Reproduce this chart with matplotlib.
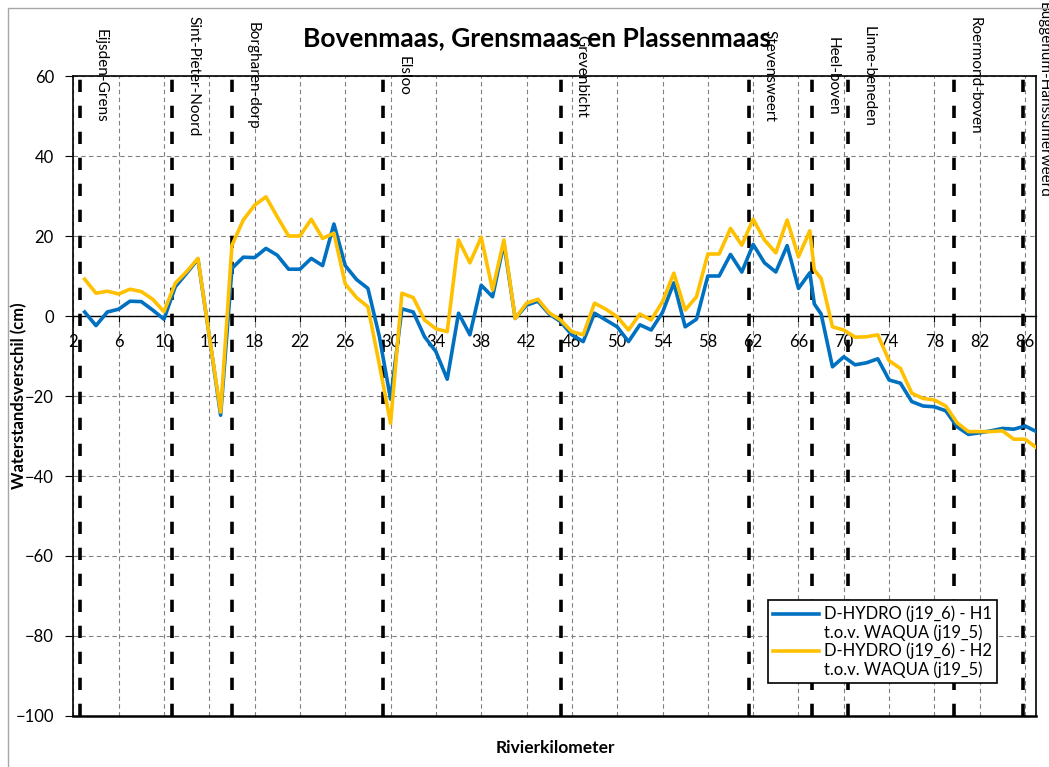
import matplotlib
matplotlib.use("Agg")
import matplotlib.pyplot as plt
from matplotlib.patches import Rectangle
from matplotlib.legend_handler import HandlerLine2D
from matplotlib.transforms import blended_transform_factory

plt.rcParams['font.family'] = ['Lato', 'DejaVu Sans']

# River kilometres and water level differences (cm)
km = [3, 4, 5, 6, 7, 8, 9, 10, 11, 12, 13, 14, 15, 16, 17, 18, 19, 20, 21, 22,
      23, 24, 25, 26, 27, 28, 29, 30, 31, 32, 33, 34, 35, 36, 37, 38, 39, 40, 41, 42,
      43, 44, 45, 46, 47, 48, 49, 50, 51, 52, 53, 54, 55, 56, 57, 58, 59, 60, 61, 62,
      63, 64, 65, 66, 67, 67.4, 68, 69, 70, 71, 72, 73, 74, 75, 76, 77, 78, 79, 80, 81,
      82, 83, 84, 85, 86, 87]

h1 = [1.0, -2.4, 1.0, 1.7, 3.7, 3.6, 1.5, -0.8, 7.3, 10.7, 14.2, -5.0, -24.8, 11.9, 14.7, 14.6, 16.9, 15.2, 11.7, 11.7,
      14.4, 12.6, 23.0, 12.6, 9.1, 6.9, -5.0, -20.8, 1.8, 1.0, -5.2, -8.9, -15.8, 0.7, -4.7, 7.7, 4.8, 18.2, -0.6, 2.7,
      3.7, 0.5, -1.4, -4.7, -6.4, 0.7, -1.0, -2.7, -6.4, -2.2, -3.5, 0.9, 8.3, -2.7, -0.8, 10.0, 10.0, 15.4, 11.0, 17.9,
      13.3, 11.0, 17.6, 6.9, 10.8, 3.0, 0.5, -12.7, -10.2, -12.2, -11.7, -10.7, -16.0, -16.8, -21.4, -22.5, -22.7, -23.7, -27.7, -29.6,
      -29.2, -28.7, -28.1, -28.3, -27.5, -28.9]

h2 = [9.2, 5.7, 6.2, 5.5, 6.7, 6.1, 4.2, 1.1, 8.2, 11.1, 14.4, -5.0, -24.0, 17.7, 24.0, 27.7, 29.8, 24.8, 20.0, 20.0,
      24.2, 19.4, 20.7, 8.0, 4.6, 2.3, -12.0, -26.8, 5.7, 4.6, -1.0, -3.2, -3.9, 19.0, 13.3, 19.7, 6.5, 19.0, -0.6, 3.2,
      4.2, 0.8, -1.0, -3.9, -4.7, 3.2, 1.7, -0.2, -3.5, 0.5, -1.0, 3.6, 10.7, 1.5, 4.8, 15.5, 15.5, 21.9, 17.7, 24.2,
      19.0, 15.8, 24.0, 14.8, 21.3, 11.5, 9.4, -2.7, -3.5, -5.3, -5.2, -4.7, -11.2, -13.1, -19.3, -20.6, -21.0, -22.5, -26.7, -28.9,
      -28.9, -28.9, -28.7, -30.8, -30.8, -32.9]

# Locations along the river
station_km = [2.6, 10.75, 16.0, 29.3, 45.0, 61.6, 67.2, 70.35, 79.7, 85.8]
station_names = ["Eijsden-Grens", "Sint-Pieter-Noord", "Borgharen-dorp", "Elsloo", "Grevenbicht",
                 "Stevensweert", "Heel-boven", "Linne-beneden", "Roermond-boven", "Buggenum-Hanssumerweerd"]

label_h1 = "D-HYDRO (j19_6) - H1\nt.o.v. WAQUA (j19_5)"
label_h2 = "D-HYDRO (j19_6) - H2\nt.o.v. WAQUA (j19_5)"


class TopLineHandler(HandlerLine2D):
    # put the legend line next to the first text line, like Excel does
    def create_artists(self, legend, orig_handle, xdescent, ydescent, width, height, fontsize, trans):
        artists = super().create_artists(legend, orig_handle, xdescent, ydescent, width, height, fontsize, trans)
        for a in artists:
            a.set_ydata([y + fontsize * 0.6 for y in a.get_ydata()])
        return artists


fig = plt.figure(figsize=(10.49, 7.67), dpi=100)
ax = fig.add_axes([0.0699, 0.0665, 0.9181, 0.8344])

# Chart area border (left and top visible)
fig.patches.append(Rectangle((8 / 1049, -0.1), 1.2, 1 - 8 / 767 + 0.1, transform=fig.transFigure,
                             fill=False, edgecolor="#a6a6a6", linewidth=1.0))

ax.set_xlim(2, 87)
ax.set_ylim(-100, 60)
ax.set_xticks(range(2, 87, 4))
ax.set_yticks(range(-100, 61, 20))

ax.grid(True, color="#808080", linestyle=(0, (4, 3)), linewidth=0.8)
ax.set_axisbelow(True)

# Station marker lines
for s in station_km:
    ax.axvline(s, color="black", linewidth=2.6, linestyle=(0, (3.4, 3.8)), zorder=2)

ax.plot(km, h1, color="#0070C0", linewidth=2.6, label=label_h1, zorder=3)
ax.plot(km, h2, color="#FFC000", linewidth=2.6, label=label_h2, zorder=4)

# x axis crosses at 0, frame kept at -100
ax.spines['bottom'].set_position(('data', 0))
ax.spines['bottom'].set_linewidth(1.0)
ax.axhline(-100, color="black", linewidth=1.8, clip_on=False, zorder=5)
for side in ['left', 'right', 'top']:
    ax.spines[side].set_linewidth(1.2)
    ax.spines[side].set_color("black")

ax.tick_params(axis='x', direction='out', length=4, pad=9, labelsize=12)
ax.tick_params(axis='y', direction='out', length=6, pad=8, labelsize=12)

# station names, rotated, right of each marker line
top_trans = blended_transform_factory(ax.transData, fig.transFigure)
for s, name in zip(station_km, station_names):
    if name.startswith("Buggenum"):
        ax.annotate(name, xy=(s, 1 - 2 / 767), xycoords=top_trans, xytext=(15, 0),
                    textcoords='offset points', rotation=270, ha='center', va='top',
                    fontsize=11, annotation_clip=False)
    else:
        ax.annotate(name, xy=(s, 60), xytext=(15, 0), textcoords='offset points',
                    rotation=270, ha='center', va='center', fontsize=11, annotation_clip=False)

fig.text(537 / 1049, 1 - 38 / 767, "Bovenmaas, Grensmaas en Plassenmaas",
         ha='center', va='center', fontsize=19, fontweight='bold')
fig.text(19 / 1049, 1 - 396 / 767, "Waterstandsverschil (cm)", rotation=90,
         ha='center', va='center', fontsize=12, fontweight='bold')
fig.text(555 / 1049, 1 - 748 / 767, "Rivierkilometer", ha='center', va='center',
         fontsize=12.5, fontweight='bold')

leg = ax.legend(loc='upper left', bbox_to_anchor=(0.721, 0.181), fontsize=12,
                frameon=True, fancybox=False, framealpha=1, edgecolor="black",
                handlelength=2.8, borderpad=0.3, labelspacing=0.1, handletextpad=0.3,
                borderaxespad=0, handler_map={matplotlib.lines.Line2D: TopLineHandler()})
leg.get_frame().set_linewidth(1.2)
leg.set_zorder(10)

fig.savefig("out.png", dpi=100)
